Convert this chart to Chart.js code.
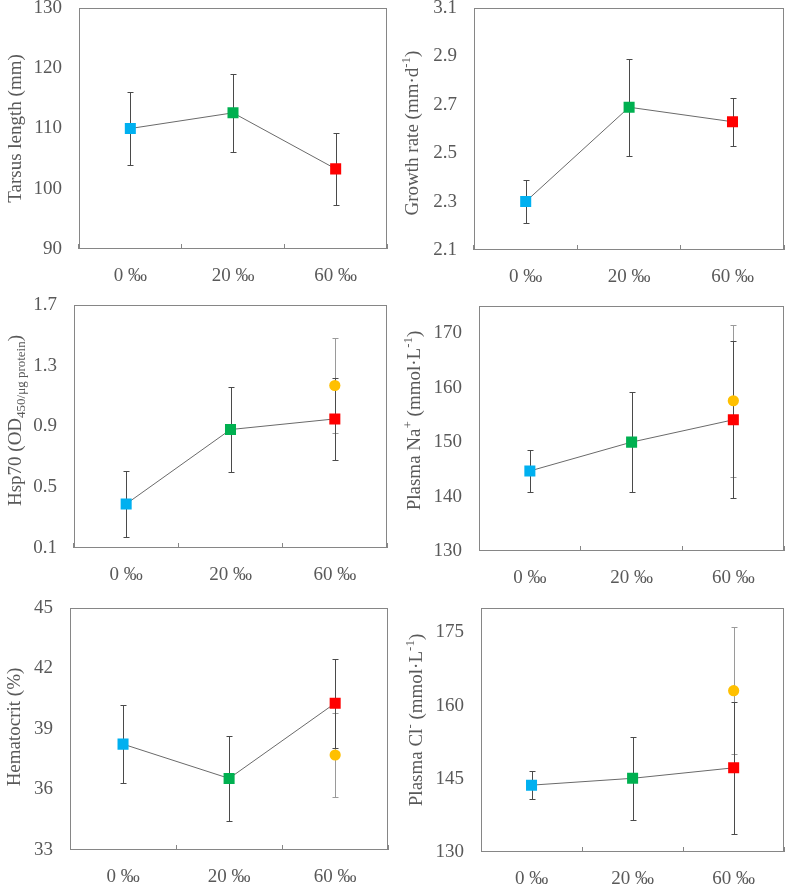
<!DOCTYPE html>
<html>
<head>
<meta charset="utf-8">
<script src="https://cdn.jsdelivr.net/npm/chart.js@4.4.1/dist/chart.umd.min.js"></script>
<style>
  body { margin: 0; background: #fff; width: 792px; height: 884px; position: relative; overflow: hidden; }
  canvas { position: absolute; }
</style>
</head>
<body>
<canvas id="tarsusChart" width="396" height="295" style="left:0;top:0"></canvas>
<canvas id="growthChart" width="396" height="295" style="left:396px;top:0"></canvas>
<canvas id="hspChart" width="396" height="295" style="left:0;top:295px"></canvas>
<canvas id="naChart" width="396" height="295" style="left:396px;top:295px"></canvas>
<canvas id="hctChart" width="396" height="294" style="left:0;top:590px"></canvas>
<canvas id="clChart" width="396" height="294" style="left:396px;top:590px"></canvas>
<script>
// salinity groups
const groups = ['0 ‰', '20 ‰', '60 ‰'];

// mean and SD per group (square markers), plus the extra 60 ‰ circle where shown
const tarsusMean = [110.0, 112.6, 103.3];
const tarsusSD = [6.0, 6.5, 6.0];
const tarsusTicks = [90, 100, 110, 120, 130];

const growthMean = [2.30, 2.69, 2.63];
const growthSD = [0.09, 0.20, 0.10];
const growthTicks = [2.1, 2.3, 2.5, 2.7, 2.9, 3.1];

const hspMean = [0.39, 0.88, 0.95];
const hspSD = [0.215, 0.28, 0.27];
const hspCircle = [null, null, 1.17];
const hspCircleSD = [null, null, 0.31];
const hspTicks = [0.1, 0.5, 0.9, 1.3, 1.7];

const naMean = [144.7, 150.0, 154.1];
const naSD = [3.85, 9.2, 14.4];
const naCircle = [null, null, 157.6];
const naCircleSD = [null, null, 14.0];
const naTicks = [130, 140, 150, 160, 170];

const hctMean = [38.25, 36.55, 40.28];
const hctSD = [1.93, 2.11, 2.2];
const hctCircle = [null, null, 37.71];
const hctCircleSD = [null, null, 2.06];
const hctTicks = [33, 36, 39, 42, 45];

const clMean = [143.7, 145.1, 147.25];
const clSD = [2.8, 8.5, 13.5];
const clCircle = [null, null, 163.05];
const clCircleSD = [null, null, 13.0];
const clTicks = [130, 145, 160, 175];

const groupColors = ['#00B0F0', '#00B050', '#FF0000'];
const circleColor = '#FFC000';
const axisGrey = '#868686';
const textGrey = '#595959';
const FONT = '"Liberation Serif", "Times New Roman", serif';

// box round the plot area
const framePlugin = {
  id: 'frame',
  beforeDatasetsDraw(chart) {
    const { ctx, chartArea: a } = chart;
    ctx.save();
    ctx.strokeStyle = axisGrey;
    ctx.lineWidth = 1;
    const l = Math.round(a.left) + 0.5, t = Math.round(a.top) + 0.5;
    const r = Math.round(a.right) - 0.5, b = Math.round(a.bottom) - 0.5;
    ctx.strokeRect(l, t, r - l, b - t);
    ctx.restore();
  }
};

// vertical SD bars with small caps
const errorBarPlugin = {
  id: 'errorBars',
  beforeDatasetsDraw(chart) {
    const { ctx } = chart;
    const yScale = chart.scales.y;
    chart.data.datasets.forEach((ds, di) => {
      if (!ds.errors) return;
      const meta = chart.getDatasetMeta(di);
      ctx.save();
      ctx.strokeStyle = ds.errorColor;
      ctx.lineWidth = 1;
      meta.data.forEach((pt, i) => {
        const m = ds.data[i], e = ds.errors[i];
        if (m == null || e == null) return;
        const x = Math.round(pt.x) + 0.5;
        const top = Math.round(yScale.getPixelForValue(m + e)) + 0.5;
        const bot = Math.round(yScale.getPixelForValue(m - e)) + 0.5;
        ctx.beginPath();
        ctx.moveTo(x, top); ctx.lineTo(x, bot);
        ctx.moveTo(x - 3, top); ctx.lineTo(x + 3, top);
        ctx.moveTo(x - 3, bot); ctx.lineTo(x + 3, bot);
        ctx.stroke();
      });
      ctx.restore();
    });
  }
};

// rotated y title with super/subscripts
const yTitlePlugin = {
  id: 'yTitle',
  afterDraw(chart, args, opts) {
    const { ctx, chartArea } = chart;
    const big = opts.size, small = Math.round(opts.size * 0.7);
    const parts = opts.parts.map(p => Object.assign({}, p, {
      font: ((p.sub || p.sup) ? small : big) + 'px ' + FONT
    }));
    ctx.save();
    let total = 0;
    parts.forEach(p => { ctx.font = p.font; p.w = ctx.measureText(p.text).width; total += p.w; });
    ctx.translate(opts.x, (chartArea.top + chartArea.bottom) / 2 + (opts.dy || 0));
    ctx.rotate(-Math.PI / 2);
    ctx.fillStyle = textGrey;
    ctx.textBaseline = 'alphabetic';
    let x = -total / 2;
    parts.forEach(p => {
      ctx.font = p.font;
      const shift = p.sub ? big * 0.25 : p.sup ? -big * 0.4 : 0;
      ctx.fillText(p.text, x, big * 0.35 + shift);
      x += p.w;
    });
    ctx.restore();
  }
};

function makePanel(id, p) {
  const datasets = [{
    data: p.mean,
    errors: p.sd,
    errorColor: '#4a4a4a',
    borderColor: '#6a6a6a',
    borderWidth: 1,
    pointStyle: 'rect',
    pointRadius: 7.8,
    pointBorderWidth: 0,
    pointBackgroundColor: groupColors,
    pointBorderColor: groupColors
  }];
  if (p.circle) {
    datasets.unshift({
      data: p.circle,
      errors: p.circleSD,
      errorColor: '#9a9a9a',
      showLine: false,
      pointStyle: 'circle',
      pointRadius: 5.6,
      pointBorderWidth: 0,
      pointBackgroundColor: circleColor,
      pointBorderColor: circleColor
    });
  }
  const ctx = document.getElementById(id).getContext('2d');
  return new Chart(ctx, {
    type: 'line',
    data: { labels: groups, datasets },
    plugins: [framePlugin, errorBarPlugin, yTitlePlugin],
    options: {
      responsive: false,
      animation: false,
      devicePixelRatio: 1,
      layout: { padding: { top: p.padTop, right: p.padRight, left: 0, bottom: 0 } },
      plugins: {
        legend: { display: false },
        tooltip: { enabled: false },
        yTitle: { parts: p.title, size: 19, x: p.titleX, dy: p.titleDy || 0 }
      },
      scales: {
        x: {
          type: 'category',
          offset: true,
          grid: { drawOnChartArea: false, drawTicks: true, tickLength: -5, offset: true, color: axisGrey },
          border: { display: false },
          ticks: { padding: 21, color: textGrey, font: { family: FONT, size: 19 }, maxRotation: 0 },
          afterFit: s => { s.height = p.xHeight; s.paddingLeft = 0; s.paddingRight = 0; }
        },
        y: {
          min: p.ticks[0],
          max: p.max,
          afterBuildTicks: s => { s.ticks = p.ticks.map(v => ({ value: v })); },
          grid: { display: false, drawTicks: false },
          border: { display: false },
          ticks: { padding: 17, color: textGrey, font: { family: FONT, size: 19 }, callback: v => String(v) },
          afterFit: s => { s.width = p.yWidth; s.paddingTop = 0; s.paddingBottom = 0; }
        }
      }
    }
  });
}

makePanel('tarsusChart', {
  mean: tarsusMean, sd: tarsusSD, ticks: tarsusTicks, max: 130,
  padTop: 8, padRight: 9, xHeight: 46, yWidth: 79, titleX: 14,
  title: [{ text: 'Tarsus length (mm)' }]
});
makePanel('growthChart', {
  mean: growthMean, sd: growthSD, ticks: growthTicks, max: 3.1,
  padTop: 8, padRight: 5, xHeight: 45, yWidth: 78, titleX: 15, titleDy: 4,
  title: [{ text: 'Growth rate (mm·d' }, { text: '-1', sup: true }, { text: ')' }]
});
makePanel('hspChart', {
  mean: hspMean, sd: hspSD, circle: hspCircle, circleSD: hspCircleSD, ticks: hspTicks, max: 1.7,
  padTop: 10, padRight: 9, xHeight: 42, yWidth: 74, titleX: 14, titleDy: -6,
  title: [{ text: 'Hsp70 (OD' }, { text: '450/μg protein', sub: true }, { text: ')' }]
});
makePanel('naChart', {
  mean: naMean, sd: naSD, circle: naCircle, circleSD: naCircleSD, ticks: naTicks, max: 175,
  padTop: 11, padRight: 5, xHeight: 39, yWidth: 83, titleX: 17, titleDy: -8,
  title: [{ text: 'Plasma Na' }, { text: '+', sup: true }, { text: ' (mmol·L' }, { text: '-1', sup: true }, { text: ')' }]
});
makePanel('hctChart', {
  mean: hctMean, sd: hctSD, circle: hctCircle, circleSD: hctCircleSD, ticks: hctTicks, max: 45,
  padTop: 18, padRight: 6, xHeight: 34, yWidth: 70, titleX: 13, titleDy: -2,
  title: [{ text: 'Hematocrit (%)' }]
});
makePanel('clChart', {
  mean: clMean, sd: clSD, circle: clCircle, circleSD: clCircleSD, ticks: clTicks, max: 180,
  padTop: 18, padRight: 4, xHeight: 32, yWidth: 85, titleX: 19, titleDy: -10,
  title: [{ text: 'Plasma Cl' }, { text: '-', sup: true }, { text: ' (mmol·L' }, { text: '-1', sup: true }, { text: ')' }]
});
</script>
</body>
</html>
